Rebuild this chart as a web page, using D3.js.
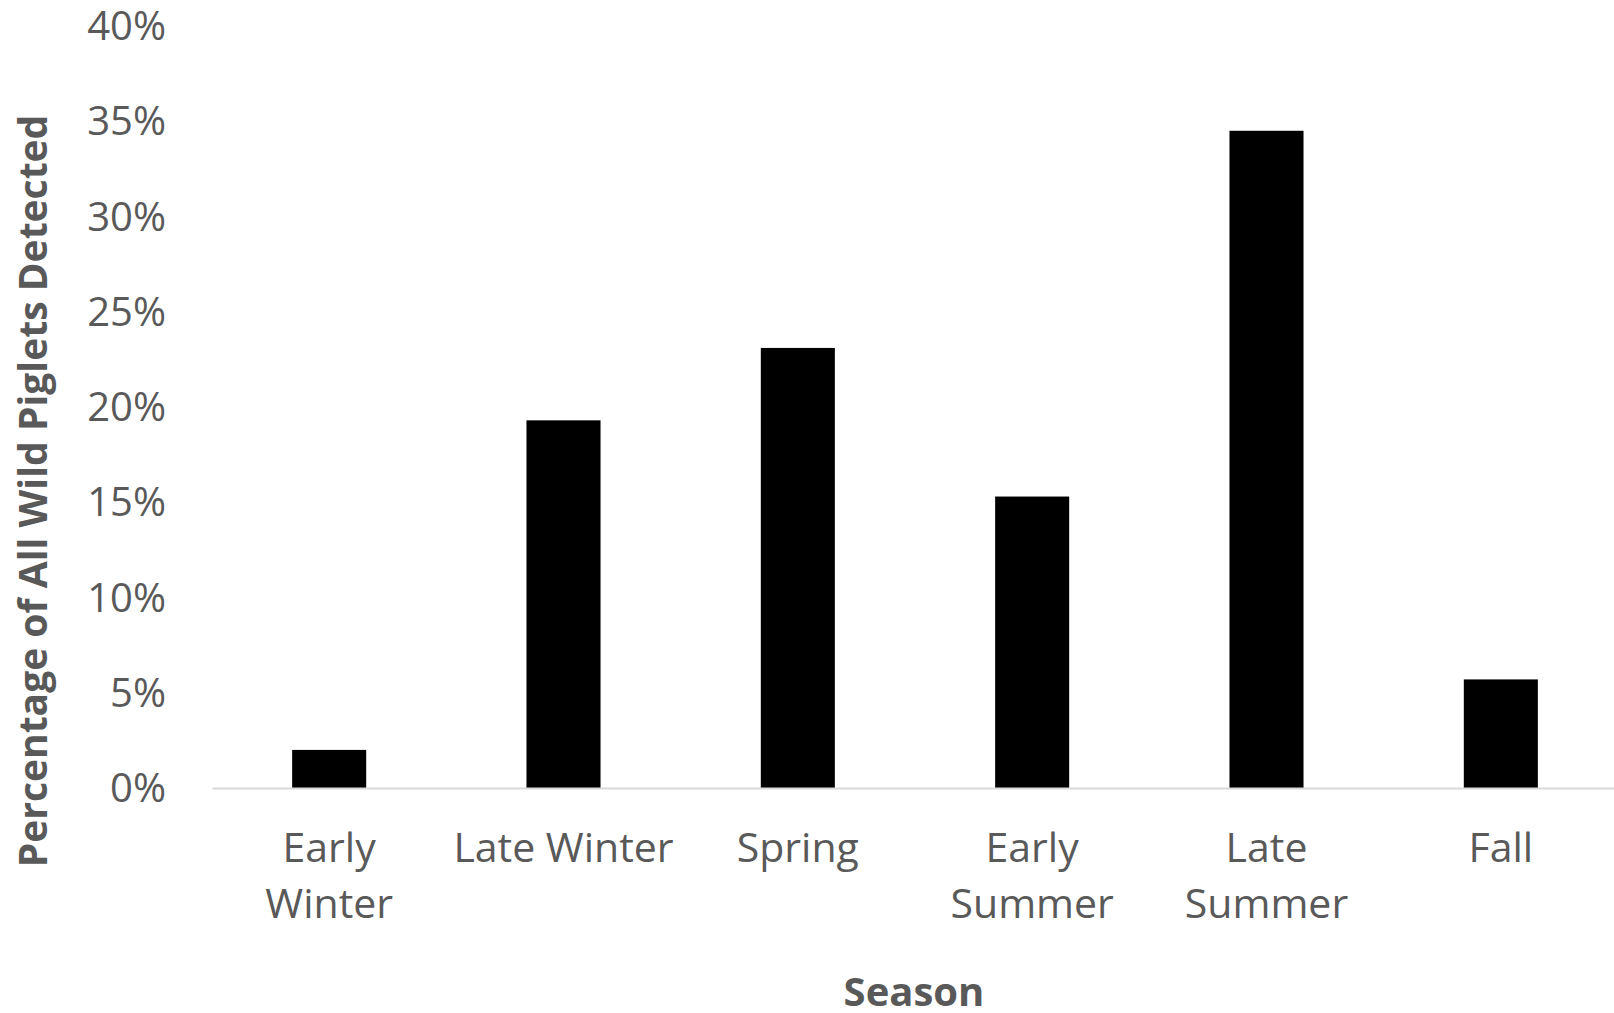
<!DOCTYPE html>
<html lang="en">
<head>
  <meta charset="UTF-8">
  <title>Wild Piglets by Season</title>
  <script src="https://d3js.org/d3.v7.min.js"></script>
  <style>
    body { margin: 0; background: #fff; overflow: hidden; }
    svg { display: block; }
    text { font-family: "Open Sans", sans-serif; }
  </style>
</head>
<body>
  <div id="chart-container"></div>

  <script>
    // Chart data
    const seasons = ['Early Winter', 'Late Winter', 'Spring', 'Early Summer', 'Late Summer', 'Fall'];
    const seasonLines = [['Early', 'Winter'], ['Late Winter'], ['Spring'], ['Early', 'Summer'], ['Late', 'Summer'], ['Fall']];
    const percentages = [2.0, 19.3, 23.1, 15.3, 34.5, 5.7];
    const yTicks = [0, 5, 10, 15, 20, 25, 30, 35, 40];

    const width = 1614;
    const height = 1013;
    const margin = { top: 26, right: 0, bottom: 225, left: 212 };

    const svg = d3.select('#chart-container')
      .append('svg')
      .attr('width', width)
      .attr('height', height);

    const xScale = d3.scaleBand()
      .domain(seasons)
      .range([margin.left, width - margin.right + 4])
      .paddingInner(0.684)
      .paddingOuter(0.342);

    const yScale = d3.scaleLinear()
      .domain([0, 40])
      .range([height - margin.bottom, margin.top]);

    // Bars
    svg.selectAll('rect.bar')
      .data(percentages)
      .join('rect')
      .attr('class', 'bar')
      .attr('x', (d, i) => xScale(seasons[i]))
      .attr('y', d => yScale(d))
      .attr('width', xScale.bandwidth())
      .attr('height', d => yScale(0) - yScale(d))
      .attr('fill', '#000');

    // x axis line
    const xAxis = svg.append('g')
      .attr('transform', `translate(0,${yScale(0)})`)
      .call(d3.axisBottom(xScale).tickSize(0).tickFormat(''));
    xAxis.select('.domain').attr('stroke', '#d9d9d9').attr('stroke-width', 2);

    // category labels (wrapped)
    svg.selectAll('text.cat')
      .data(seasons)
      .join('text')
      .attr('class', 'cat')
      .attr('text-anchor', 'middle')
      .attr('fill', '#595959')
      .attr('font-size', 41)
      .attr('x', d => xScale(d) + xScale.bandwidth() / 2)
      .attr('y', yScale(0) + 74)
      .each(function (d, i) {
        const t = d3.select(this);
        seasonLines[i].forEach((line, j) => {
          t.append('tspan')
            .attr('x', xScale(d) + xScale.bandwidth() / 2)
            .attr('dy', j === 0 ? 0 : 56)
            .text(line);
        });
      });

    // y axis (labels only)
    const yAxis = svg.append('g')
      .attr('transform', `translate(${margin.left},0)`)
      .call(d3.axisLeft(yScale).tickValues(yTicks).tickSize(0).tickPadding(46).tickFormat(d => d + '%'));
    yAxis.select('.domain').remove();
    yAxis.selectAll('text')
      .attr('fill', '#595959')
      .attr('font-size', 40)
      .attr('dy', '0.34em')
      .attr('font-family', '"Open Sans", sans-serif');

    // Axis titles
    svg.append('text')
      .attr('x', 914)
      .attr('y', 1006)
      .attr('text-anchor', 'middle')
      .attr('font-size', 40)
      .attr('font-weight', 'bold')
      .attr('fill', '#595959')
      .text('Season');

    svg.append('text')
      .attr('transform', 'rotate(-90)')
      .attr('x', -491)
      .attr('y', 47)
      .attr('text-anchor', 'middle')
      .attr('font-size', 39)
      .attr('font-weight', 'bold')
      .attr('fill', '#595959')
      .text('Percentage of All Wild Piglets Detected');
  </script>
</body>
</html>
